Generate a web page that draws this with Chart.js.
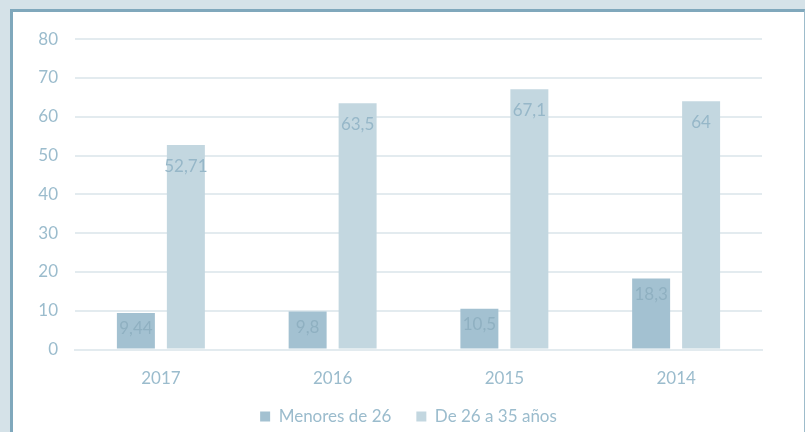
<!DOCTYPE html>
<html><head><meta charset="utf-8">
<script src="https://cdn.jsdelivr.net/npm/chart.js@4/dist/chart.umd.min.js"></script>
<style>
html,body{margin:0;padding:0;background:#d5e2e8;width:805px;height:432px;overflow:hidden;}
#frame{position:absolute;left:10px;top:9px;width:791px;height:430px;background:#fff;border-left:3px solid #80a8bc;border-top:3px solid #80a8bc;border-right:1px solid #9dbccb;}
#wrap{position:absolute;left:0;top:0;width:791px;height:423px;}
</style></head>
<body>
<div id="frame"><div id="wrap"><canvas id="c" width="791" height="423"></canvas></div></div>
<script>
const categories = ["2017", "2016", "2015", "2014"];
const menores26 = [9.44, 9.8, 10.5, 18.3];
const de26a35 = [52.71, 63.5, 67.1, 64];
const labelsMenores = ["9,44", "9,8", "10,5", "18,3"];
const labelsDe26 = ["52,71", "63,5", "67,1", "64"];
const yTicks = [0, 10, 20, 30, 40, 50, 60, 70, 80];

const FONT = "Lato, 'Open Sans', sans-serif";
const textColor = "#9bbccd";

const valueLabels = {
  id: "valueLabels",
  afterDatasetsDraw(chart) {
    const ctx = chart.ctx;
    const texts = [labelsMenores, labelsDe26];
    ctx.save();
    ctx.font = "17px " + FONT;
    ctx.textAlign = "center";
    ctx.textBaseline = "middle";
    chart.data.datasets.forEach((ds, i) => {
      const meta = chart.getDatasetMeta(i);
      meta.data.forEach((bar, j) => {
        ctx.fillStyle = i === 0 ? "#8fb0c1" : "#96b7c8";
        ctx.fillText(texts[i][j], bar.x, bar.y + (i === 0 ? 16 : 21));
      });
    });
    ctx.restore();
  }
};

const defaultGen = Chart.defaults.plugins.legend.labels.generateLabels;

new Chart(document.getElementById("c"), {
  type: "bar",
  data: {
    labels: categories,
    datasets: [
      { label: "Menores de 26", data: menores26, backgroundColor: "#a3c1d1",
        categoryPercentage: 0.582, barPercentage: 0.76 },
      { label: "De 26 a 35 años", data: de26a35, backgroundColor: "#c3d7e0",
        categoryPercentage: 0.582, barPercentage: 0.76 }
    ]
  },
  options: {
    responsive: false,
    animation: false,
    devicePixelRatio: 1,
    layout: { padding: { left: 0, right: 0, top: 14, bottom: 0 } },
    plugins: {
      legend: {
        position: "bottom",
        labels: {
          boxWidth: 10, boxHeight: 10, color: textColor, font: { family: FONT, size: 17 }, padding: 8,
          generateLabels(chart) {
            const items = defaultGen(chart);
            if (items.length) items[0].text = items[0].text + "\u2002\u2002";
            return items;
          }
        }
      },
      tooltip: { enabled: false }
    },
    scales: {
      x: {
        grid: { display: false },
        border: { color: "#e3ebef", width: 2 },
        ticks: { color: textColor, font: { family: FONT, size: 17 }, padding: 11 }
      },
      y: {
        min: 0, max: 80,
        afterFit(s) { s.width = 62; },
        afterBuildTicks(s) { s.ticks = yTicks.map(v => ({ value: v })); },
        grid: { color: "#e3ebef", lineWidth: 2, drawTicks: false },
        border: { display: false },
        ticks: { color: textColor, font: { family: FONT, size: 17 }, padding: 17 }
      },
      yRight: {
        position: "right",
        min: 0, max: 80,
        afterFit(s) { s.width = 42; },
        grid: { display: false, drawOnChartArea: false },
        border: { display: false },
        ticks: { display: false }
      }
    }
  },
  plugins: [valueLabels]
});
</script>
</body></html>
